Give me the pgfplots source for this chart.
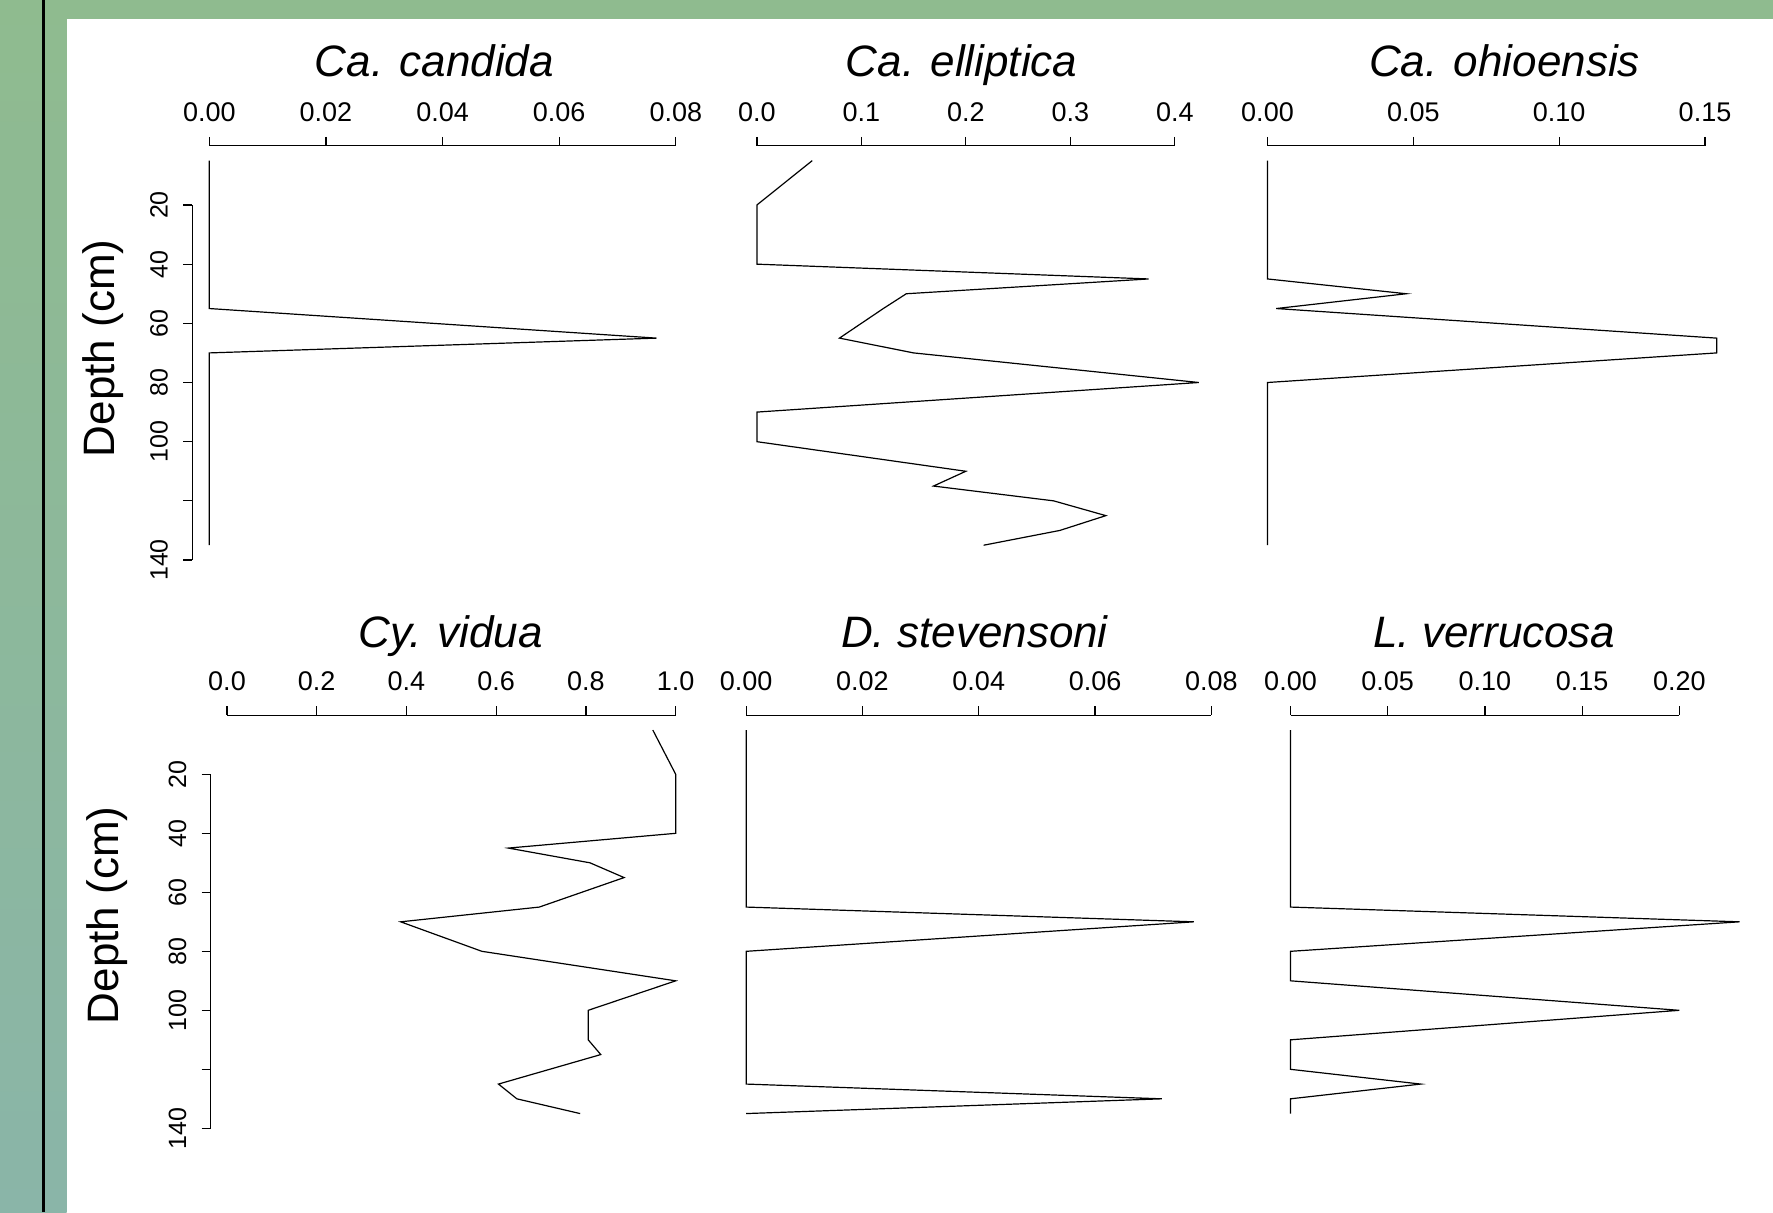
\documentclass[border=0pt]{standalone}
\usepackage{fontspec}
\setmainfont{Liberation Sans}
\usepackage{pgfplots}
\pgfplotsset{compat=1.18}
\definecolor{frameTop}{RGB}{143,187,143}
\definecolor{frameBot}{RGB}{138,181,168}
\pgfplotsset{
  strat/.style={
    scale only axis, anchor=north west,
    ymin=0, ymax=140, y dir=reverse, xmin=0,
    axis x line*=top, axis y line=none, clip=false,
    scaled x ticks=false,
    tick align=outside, major tick length=4.5pt,
    axis line style={line width=0.6pt, black},
    tick style={line width=0.6pt, black},
    ytick=\empty,
    xticklabel style={font=\fontsize{13.5}{15}\selectfont, anchor=base, yshift=7.75pt},
  },
  depthax/.style={
    scale only axis, anchor=north west, width=10pt,
    xmin=0, xmax=1, ymin=20, ymax=140, y dir=reverse,
    axis y line*=left, axis x line=none, xtick=\empty,
    ytick={20,40,60,80,100,120,140},
    yticklabels={20,40,60,80,100,,140},
    tick align=outside, major tick length=4.5pt,
    axis line style={line width=0.6pt, black},
    tick style={line width=0.6pt, black},
    yticklabel style={font=\fontsize{12.5}{14}\selectfont, xshift=-7.8pt, rotate=90, anchor=base},
  },
  dline/.style={black, line width=0.6pt, mark=none},
}
\begin{document}
\begin{tikzpicture}
% background frame
\fill[white] (0,0) rectangle (886.5pt,-606pt);
\fill[frameTop] (0,0) rectangle (886.5pt,-9.5pt);
\shade[top color=frameTop, bottom color=frameBot] (0,0) rectangle (33.35pt,-606pt);
\fill[black] (21.1pt,0) rectangle (22.5pt,-606pt);

% ---------- top row ----------
\begin{axis}[depthax, at={(96.15pt,-102.5pt)}, height=177.5pt]
\end{axis}

\begin{axis}[strat, at={(104.65pt,-72.9pt)}, width=233.25pt, height=207.1pt,
  xmax=0.08, xtick={0,0.02,0.04,0.06,0.08}, xticklabels={0.00,0.02,0.04,0.06,0.08}]
\addplot[dline] coordinates {(0,5) (0,55) (0.0767,65) (0,70) (0,135)};
\end{axis}

\begin{axis}[strat, at={(378.45pt,-72.9pt)}, width=208.95pt, height=207.1pt,
  xmax=0.4, xtick={0,0.1,0.2,0.3,0.4}, xticklabels={0.0,0.1,0.2,0.3,0.4}]
\addplot[dline] coordinates {(0.053,5) (0,20) (0,40) (0.375,45) (0.143,50) (0.121,55)
  (0.079,65) (0.150,70) (0.423,80) (0,90) (0,100) (0.200,110) (0.169,115) (0.284,120)
  (0.334,125) (0.290,130) (0.217,135)};
\end{axis}

\begin{axis}[strat, at={(633.75pt,-72.9pt)}, width=218.75pt, height=207.1pt,
  xmax=0.15, xtick={0,0.05,0.10,0.15}, xticklabels={0.00,0.05,0.10,0.15}]
\addplot[dline] coordinates {(0,5) (0,45) (0.0476,50) (0.003,55) (0.154,65) (0.154,70) (0,80) (0,135)};
\end{axis}

% ---------- bottom row ----------
\begin{axis}[depthax, at={(105.35pt,-387.15pt)}, height=177pt]
\end{axis}

\begin{axis}[strat, at={(113.5pt,-357.65pt)}, width=224.35pt, height=206.5pt,
  xmax=1, xtick={0,0.2,0.4,0.6,0.8,1.0}, xticklabels={0.0,0.2,0.4,0.6,0.8,1.0}]
\addplot[dline] coordinates {(0.949,5) (1,20) (1,40) (0.627,45) (0.809,50) (0.885,55)
  (0.696,65) (0.387,70) (0.568,80) (1,90) (0.805,100) (0.805,110) (0.833,115)
  (0.605,125) (0.646,130) (0.787,135)};
\end{axis}

\begin{axis}[strat, at={(373.1pt,-357.65pt)}, width=232.55pt, height=206.5pt,
  xmax=0.08, xtick={0,0.02,0.04,0.06,0.08}, xticklabels={0.00,0.02,0.04,0.06,0.08}]
\addplot[dline] coordinates {(0,5) (0,65) (0.077,70) (0,80) (0,125) (0.0715,130) (0,135)};
\end{axis}

\begin{axis}[strat, at={(645.25pt,-357.65pt)}, width=194.4pt, height=206.5pt,
  xmax=0.2, xtick={0,0.05,0.10,0.15,0.20}, xticklabels={0.00,0.05,0.10,0.15,0.20}]
\addplot[dline] coordinates {(0,5) (0,65) (0.231,70) (0,80) (0,90) (0.200,100) (0,110)
  (0,120) (0.067,125) (0,130) (0,135)};
\end{axis}

% titles and depth labels
\begin{scope}[every node/.style={font=\fontsize{22}{26}\selectfont}]
\node[anchor=base, font=\fontsize{22}{26}\selectfont\itshape] at (217.2pt,-38.25pt) {Ca. candida};
\node[anchor=base, font=\fontsize{22}{26}\selectfont\itshape] at (480.85pt,-38.25pt) {Ca. elliptica};
\node[anchor=base, font=\fontsize{22}{26}\selectfont\itshape] at (752.25pt,-38.25pt) {Ca. ohioensis};
\node[anchor=base, font=\fontsize{22}{26}\selectfont\itshape] at (225.3pt,-323.5pt) {Cy. vidua};
\node[anchor=base, font=\fontsize{22}{26}\selectfont\itshape] at (487.25pt,-323.5pt) {D. stevensoni};
\node[anchor=base, font=\fontsize{22}{26}\selectfont\itshape] at (747.2pt,-323.5pt) {L. verrucosa};
\node[rotate=90, anchor=base] at (57.4pt,-174.15pt) {Depth (cm)};
\node[rotate=90, anchor=base] at (59.3pt,-457.6pt) {Depth (cm)};
\end{scope}
\end{tikzpicture}
\end{document}
